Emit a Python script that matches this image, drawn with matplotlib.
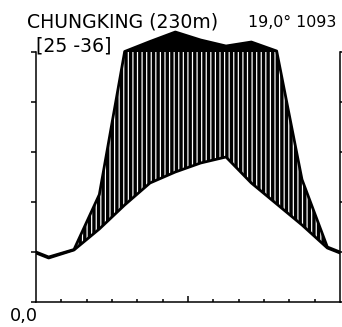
import matplotlib
matplotlib.use('Agg')
import matplotlib.pyplot as plt
import numpy as np

# Walter-Lieth climate diagram, Chungking
months = ['Jan', 'Feb', 'Mar', 'Apr', 'May', 'Jun', 'Jul', 'Aug', 'Sep', 'Oct', 'Nov', 'Dec']
temp = [8.8, 10.4, 14.6, 19.4, 23.8, 26.0, 27.8, 29.0, 23.8, 19.6, 15.4, 10.8]   # deg C
precip = [18, 21, 43, 102, 142, 180, 148, 124, 140, 104, 49, 22]                # mm

station = 'CHUNGKING (230m)'
years = '[25 -36]'
summary = '19,0° 1093'
lowest = '0,0'

DPI = 110
W, H = 342, 327

plt.rcParams['font.family'] = 'DejaVu Sans'
plt.rcParams['hatch.linewidth'] = 2.2
plt.rcParams['hatch.color'] = 'black'

def scale_precip(p):
  # 10 deg = 20 mm up to 100 mm, above that 10 deg = 200 mm
  p = np.asarray(p, dtype=float)
  return np.where(p <= 100, p / 2.0, 50 + (p - 100) / 20.0)

# month midpoints, edges take the Dec/Jan mean
x = np.concatenate([[0], np.arange(12) + 0.5, [12]])
t = np.concatenate([[(temp[0] + temp[-1]) / 2], temp, [(temp[0] + temp[-1]) / 2]])
ps = scale_precip(precip)
p = np.concatenate([[(ps[0] + ps[-1]) / 2], ps, [(ps[0] + ps[-1]) / 2]])

# dense grid so the fills follow the polylines
xf = np.linspace(0, 12, 1201)
tf = np.interp(xf, x, t)
pf = np.interp(xf, x, p)

fig = plt.figure(figsize=(W / DPI, H / DPI), dpi=DPI)
ax = fig.add_axes([36 / W, 25 / H, 304 / W, 300 / H])
ax.set_xlim(0, 12)
ax.set_ylim(0, 60)

ax.fill_between(xf, tf, np.minimum(pf, 50), where=pf >= tf, interpolate=True,
                facecolor='none', edgecolor='black', hatch='||||', linewidth=0)
ax.fill_between(xf, 50, pf, where=pf > 50, interpolate=True, facecolor='black', linewidth=0)

ax.plot(x, t, color='black', lw=1.8, solid_joinstyle='round')
ax.plot(x, p, color='black', lw=1.8, solid_joinstyle='round')

ax.spines['top'].set_visible(False)
for s in ['left', 'right']:
  ax.spines[s].set_bounds(0, 50)
  ax.spines[s].set_linewidth(1.0)
ax.spines['bottom'].set_linewidth(1.0)

ax.set_yticks(range(0, 51, 10))
ax.tick_params(axis='y', left=True, right=True, direction='out', length=3, width=1,
               labelleft=False, labelright=False)
ax.set_xticks([6])
ax.set_xticks([m for m in range(1, 12) if m != 6], minor=True)
ax.tick_params(axis='x', which='major', direction='in', length=4, width=1, labelbottom=False)
ax.tick_params(axis='x', which='minor', direction='in', length=2, width=1)

def px_text(px, py, s, size, ha='left'):
  fig.text(px / W, 1 - py / H, s, fontsize=size, ha=ha, va='baseline')

px_text(27, 27, station, 12.4)
px_text(336, 27, summary, 10.4, ha='right')
px_text(36, 52, years, 12.4)
px_text(10, 321, lowest, 11.5)

fig.savefig('out.png', dpi=DPI)
